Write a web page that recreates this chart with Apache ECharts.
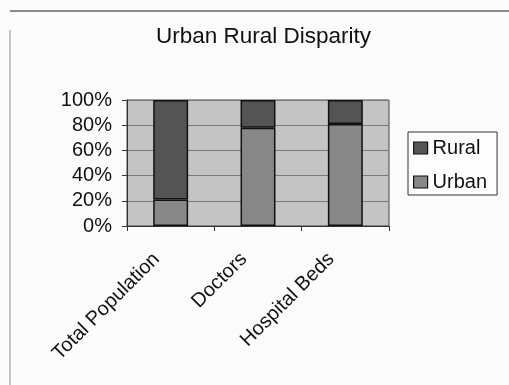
<!DOCTYPE html>
<html>
<head>
<meta charset="utf-8">
<script src="https://cdn.jsdelivr.net/npm/echarts@6/dist/echarts.min.js"></script>
<style>
  html, body { margin: 0; padding: 0; background: #fbfbfb; }
  #chart { width: 509px; height: 385px; }
</style>
</head>
<body>
<div id="chart"></div>
<script>
// Share of each resource held by urban and rural areas (percent)
const categories = ['Total Population', 'Doctors', 'Hospital Beds'];
const urbanShare = [21, 78, 81];
const ruralShare = [79, 22, 19];
const yTicks = [0, 20, 40, 60, 80, 100];

const chart = echarts.init(document.getElementById('chart'), null, { renderer: 'canvas' });
const font = 'Liberation Sans, Arial, sans-serif';

chart.setOption({
  backgroundColor: '#fbfbfb',
  animation: false,
  title: {
    text: 'Urban Rural Disparity',
    left: 151,
    top: 20,
    textStyle: { fontFamily: font, fontSize: 22.5, fontWeight: 'normal', color: '#111' }
  },
  legend: {
    orient: 'vertical',
    left: 408,
    top: 132,
    data: ['Rural', 'Urban'],
    icon: 'rect',
    itemWidth: 14,
    itemHeight: 12,
    itemGap: 14,
    padding: [6, 10, 3, 5],
    borderColor: '#333',
    borderWidth: 1,
    backgroundColor: '#fdfdfd',
    textStyle: { fontFamily: font, fontSize: 20, color: '#111' },
    itemStyle: { borderColor: '#111', borderWidth: 1.2 }
  },
  grid: {
    left: 127,
    right: 120,
    top: 100,
    bottom: 159,
    show: true,
    backgroundColor: '#c4c4c4',
    borderColor: '#444',
    borderWidth: 1
  },
  xAxis: {
    type: 'category',
    data: categories,
    axisLine: { show: true, lineStyle: { color: '#333', width: 1 } },
    axisTick: { show: true, length: 5, lineStyle: { color: '#333' } },
    axisLabel: {
      rotate: 45,
      margin: 16,
      padding: [0, 20, 0, 0],
      fontFamily: font,
      fontSize: 20,
      color: '#111'
    }
  },
  yAxis: {
    type: 'value',
    min: yTicks[0],
    max: yTicks[yTicks.length - 1],
    interval: yTicks[1] - yTicks[0],
    axisLine: { show: true, lineStyle: { color: '#333' } },
    axisTick: { show: true, length: 5, lineStyle: { color: '#333' } },
    splitLine: { show: true, lineStyle: { color: '#7a7a7a', width: 1 } },
    axisLabel: {
      formatter: '{value}%',
      margin: 15,
      fontFamily: font,
      fontSize: 20,
      color: '#111'
    }
  },
  series: [
    {
      name: 'Urban',
      type: 'bar',
      stack: 'share',
      data: urbanShare,
      barCategoryGap: '60%',
      itemStyle: { color: '#878787', borderColor: '#111', borderWidth: 1.5 }
    },
    {
      name: 'Rural',
      type: 'bar',
      stack: 'share',
      data: ruralShare,
      barCategoryGap: '60%',
      itemStyle: { color: '#545454', borderColor: '#111', borderWidth: 1.5 }
    }
  ],
  graphic: [
    {
      type: 'line',
      shape: { x1: 10, y1: 11, x2: 509, y2: 11 },
      style: { stroke: '#8a8a8a', lineWidth: 2 }
    },
    {
      type: 'line',
      shape: { x1: 10, y1: 30, x2: 10, y2: 385 },
      style: { stroke: '#b5b5b5', lineWidth: 1.5 }
    }
  ]
});
</script>
</body>
</html>
